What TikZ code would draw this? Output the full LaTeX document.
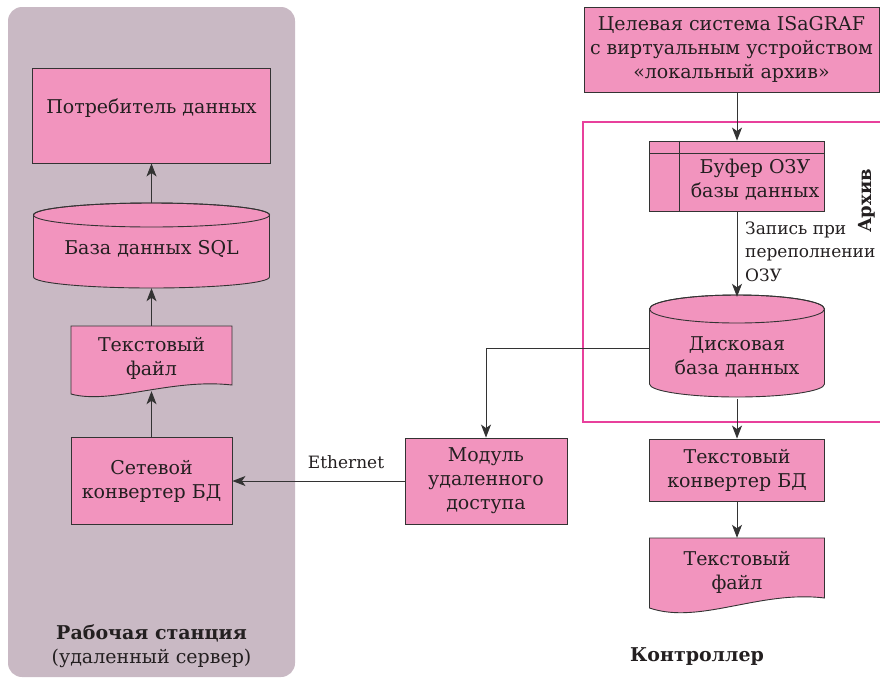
\documentclass[tikz,border=0pt]{standalone}
\usepackage{fontspec}
\setmainfont{DejaVu Serif}
\usetikzlibrary{arrows.meta,calc}
\definecolor{pinkfill}{HTML}{F294BE}
\definecolor{panelgray}{HTML}{C9B9C4}
\definecolor{framemag}{HTML}{E8409C}
\definecolor{edgecol}{HTML}{333333}
\definecolor{textcol}{HTML}{231F20}
\begin{document}
\begin{tikzpicture}[x=1pt,y=-1pt,
  box/.style={draw=edgecol,fill=pinkfill,line width=0.9pt,inner sep=0pt,align=center,text=textcol,font=\fontsize{19}{24}\selectfont},
  shapeline/.style={draw=edgecol,fill=pinkfill,line width=0.9pt},
  ghost/.style={draw=none,inner sep=0pt,align=center,text=textcol,font=\fontsize{19}{24}\selectfont},
  txt/.style={inner sep=0pt,align=center,text=textcol,font=\fontsize{19}{24}\selectfont},
  small/.style={inner sep=0pt,align=left,text=textcol,font=\fontsize{17}{23.5}\selectfont},
  conn/.style={draw=edgecol,line width=0.9pt,-{Stealth[length=13pt,width=10pt,inset=3.5pt]}},
  plain/.style={draw=edgecol,line width=0.9pt}]
\useasboundingbox (0,0) rectangle (880,678);
% panel
\node[fill=panelgray,rounded corners=14pt,minimum width=287,minimum height=670,inner sep=0pt] (panel) at (151.5,342) {};
% archive frame
\draw[framemag,line width=1.2pt] (880,122) -- (583,122) -- (583,422) -- (880,422);
% shapes drawn directly
\path[shapeline] (33.5,215) -- (33.5,277) arc[start angle=180,end angle=360,x radius=118pt,y radius=11pt] -- (269.5,215) arc[start angle=0,end angle=180,x radius=118pt,y radius=12pt] -- cycle;
\draw[draw=edgecol,line width=0.9pt] (151.5,215) ellipse [x radius=118pt,y radius=12pt];
\path[shapeline] (649.5,309) -- (649.5,384) arc[start angle=180,end angle=360,x radius=87.5pt,y radius=13pt] -- (824.5,309) arc[start angle=0,end angle=180,x radius=87.5pt,y radius=14pt] -- cycle;
\draw[draw=edgecol,line width=0.9pt] (737,309) ellipse [x radius=87.5pt,y radius=14pt];
\path[shapeline] (71,326) -- (232,326) -- (232,385) .. controls (171,378) and (111,405) .. (71,394) -- cycle;
\path[shapeline] (649.5,538) -- (824.5,538) -- (824.5,598) .. controls (759.5,590) and (699.5,625) .. (649.5,608) -- cycle;
% nodes
\node[box,minimum width=238,minimum height=95] (cons) at (151.5,115.5) {};
\node[txt] (constxt) at (151.5,108) {Потребитель данных};
\node[ghost,minimum width=236,minimum height=85] (sql) at (151.5,245.5) {};
\node[txt] (sqltxt) at (151.5,249) {База данных SQL};
\node[ghost,minimum width=161,minimum height=65] (tf1) at (151.5,358.5) {Текстовый\\файл};
\node[box,minimum width=161,minimum height=87] (conv) at (151.5,481) {Сетевой\\конвертер БД};
\node[box,minimum width=162,minimum height=86] (mod) at (486,481) {Модуль\\удаленного\\доступа};
\node[box,minimum width=295,minimum height=85] (target) at (731.5,49.5) {Целевая система ISaGRAF\\с виртуальным устройством\\«локальный архив»};
\node[box,minimum width=175,minimum height=70] (buf) at (737,176) {};
\draw[draw=edgecol,line width=0.9pt] (buf.north west |- 0,153) -- (buf.north east |- 0,153);
\draw[draw=edgecol,line width=0.9pt] (679,0 |- buf.north) -- (679,0 |- buf.south);
\node[txt] (buftxt) at (755,180) {Буфер ОЗУ\\базы данных};
\node[ghost,minimum width=175,minimum height=102] (disk) at (737,348) {};
\node[txt] (disktxt) at (737,356.5) {Дисковая\\база данных};
\node[box,minimum width=175,minimum height=62] (tconv) at (737,470) {Текстовый\\конвертер БД};
\node[ghost,minimum width=175,minimum height=68] (tf2) at (737,572) {Текстовый\\файл};
% labels
\node[small,anchor=west] (rec) at (745,251.5) {Запись при\\переполнении\\ОЗУ};
\node[inner sep=0pt,rotate=90,text=textcol,font=\fontsize{18}{20}\selectfont\bfseries] (arch) at (867,201) {Архив};
\node[small] (eth) at (346,462) {Ethernet};
\node[txt] (ws) at (151.5,646) {\textbf{Рабочая станция}\\(удаленный сервер)};
\node[txt,font=\fontsize{19}{24}\selectfont\bfseries] (ctrl) at (697,657) {Контроллер};
% connectors
\draw[conn] (sql.north) -- (cons.south);
\draw[conn] (tf1.north) -- (sql.south);
\draw[conn] (conv.north) -- (tf1.south);
\draw[conn] (mod.west) -- (conv.east);
\draw[conn] (disk.west) -| (mod.north);
\draw[conn] (buf.north |- target.south) -- (buf.north);
\draw[conn] (buf.south) -- (disk.north);
\draw[conn] (disk.south) -- (tconv.north);
\draw[conn] (tconv.south) -- (tf2.north);
\end{tikzpicture}
\end{document}
